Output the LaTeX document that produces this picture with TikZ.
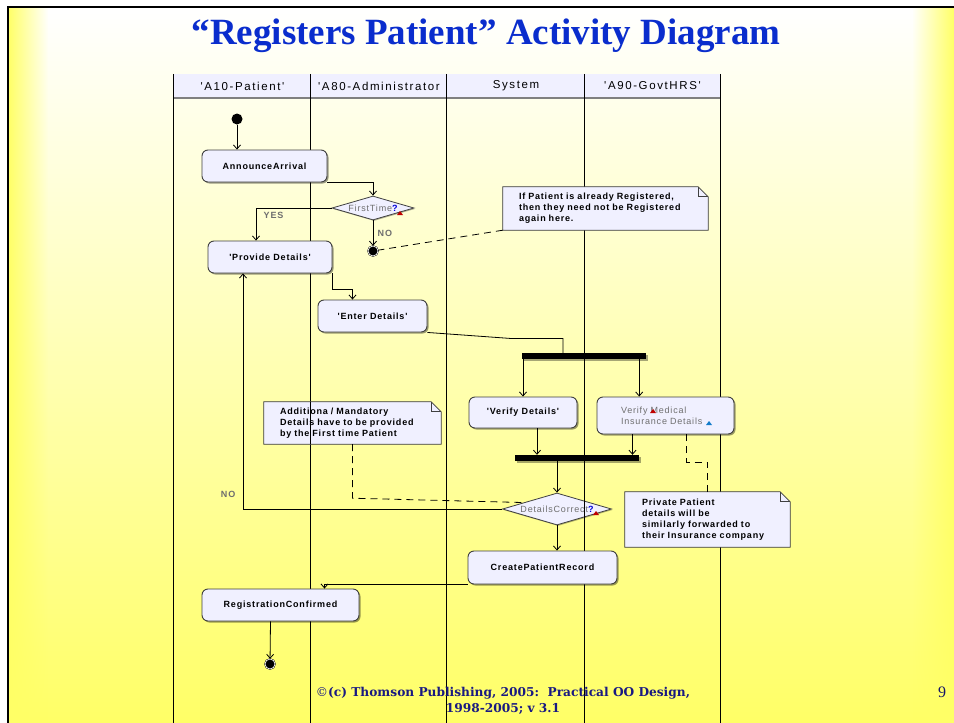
\documentclass[tikz,border=0pt]{standalone}
\usepackage{fontspec}
\setmainfont{Liberation Serif}
\newfontfamily\umlfont{Liberation Sans}[LetterSpace=9]
\newfontfamily\headfont{Liberation Sans}[LetterSpace=14]
\newfontfamily\footfont{DejaVu Serif}
\usetikzlibrary{arrows.meta,calc,shapes.geometric,shadows,fadings}
\definecolor{slideyellow}{RGB}{255,255,102}
\definecolor{boxfill}{RGB}{240,240,255}
\definecolor{titleblue}{RGB}{10,45,205}
\definecolor{footblue}{RGB}{25,25,130}
\definecolor{labelgray}{RGB}{110,110,110}
\pgfdeclarelayer{slide}
\pgfdeclarelayer{back}
\pgfsetlayers{slide,back,main}
% dog-eared outline behind a note node
\newcommand{\drawnote}[1]{%
  \begin{pgfonlayer}{back}
    \fill[black, opacity=0.4, xshift=2pt, yshift=-2pt] (#1.south west) -- (#1.south east)
      -- ([yshift=-10pt]#1.north east) -- ([xshift=-10pt]#1.north east) -- (#1.north west) -- cycle;
    \draw[notebody] (#1.south west) -- (#1.south east)
      -- ([yshift=-10pt]#1.north east) -- ([xshift=-10pt]#1.north east) -- (#1.north west) -- cycle;
    \draw[notebody, fill=none] ([xshift=-10pt]#1.north east) |- ([yshift=-10pt]#1.north east);
  \end{pgfonlayer}}

\begin{document}
\begin{tikzpicture}[x=1pt, y=-1pt, >={Straight Barb[length=4pt,width=7pt]},
    every node/.style={font=\umlfont},
    action/.style={rectangle, rounded corners=6pt, draw=black!75, line width=0.9pt, fill=boxfill,
      inner sep=0pt, font=\umlfont\bfseries\fontsize{9}{11}\selectfont,
      drop shadow={shadow xshift=1.5pt, shadow yshift=-1.5pt, fill=black, opacity=0.4}},
    decision/.style={diamond, aspect=3.4, draw=black!75, line width=0.8pt, fill=boxfill, inner sep=0pt,
      font=\umlfont\fontsize{9}{11}\selectfont, text=labelgray,
      drop shadow={shadow xshift=1pt, shadow yshift=-1pt, fill=black, opacity=0.3}},
    bar/.style={rectangle, fill=black, inner sep=0pt, minimum height=6pt,
      drop shadow={shadow xshift=1.5pt, shadow yshift=-1.5pt, fill=black, opacity=0.35}},
    initial/.style={circle, fill=black, inner sep=0pt, minimum size=11pt},
    final/.style={circle, fill=black, draw=black, double=white, double distance=0.7pt,
      inner sep=0pt, minimum size=10pt},
    note/.style={rectangle, inner sep=0pt, align=left,
      font=\umlfont\bfseries\fontsize{9}{11}\selectfont},
    notebody/.style={draw=black!75, line width=0.8pt, fill=boxfill},
    lanehead/.style={rectangle, fill=boxfill, inner sep=0pt, minimum height=24pt,
      font=\headfont\fontsize{11.5}{13}\selectfont},
    laneline/.style={line width=0.9pt},
    flow/.style={->, line width=0.8pt},
    link/.style={line width=0.8pt, dash pattern=on 7pt off 5pt},
    guard/.style={font=\umlfont\bfseries\fontsize{9}{11}\selectfont, text=labelgray}]

  \useasboundingbox (0,0) rectangle (954,723);
  \coordinate (pagebottom) at (0,723);

  % slide and swimlanes
  \begin{pgfonlayer}{slide}
    \shade[top color=white, bottom color=slideyellow] (8,7) rectangle (954,723);
    \fill[slideyellow, path fading=east] (8,7) rectangle (48,723);
    \fill[slideyellow, path fading=west] (912,7) rectangle (954,723);
    \draw[line width=2pt] (8,723) -- (8,7) -- (954,7);
    \node[lanehead, minimum width=137pt] (patient) at (242.5,86) {'A10-Patient'};
    \node[lanehead, minimum width=136pt] (admin) at (379,86) {'A80-Administrator};
    \node[lanehead, minimum width=138pt] (system) at (516,86) {System};
    \node[lanehead, minimum width=135pt] (govt) at (652.5,86) {'A90-GovtHRS'};
    \draw[black!50, line width=1.5pt] (patient.south west) -- (govt.south east);
    \foreach \lane in {patient,admin,system,govt}
      \draw[laneline] (\lane.north west) -- (\lane.north west |- pagebottom);
    \draw[laneline] (govt.north east) -- (govt.north east |- pagebottom);
  \end{pgfonlayer}

  \node[font=\bfseries\fontsize{37}{40}\selectfont, text=titleblue] (title) at (486,36)
    {“Registers Patient” Activity Diagram};

  % activities
  \node[initial] (start) at (237,119) {};
  \node[action, minimum width=125pt, minimum height=32pt] (announce) at (264.5,166) {AnnounceArrival};
  \node[decision, minimum width=82pt, minimum height=24pt] (firsttime) at (373,208)
    {FirstTime\textcolor{blue!85!black}{\bfseries ?}};
  \node[final] (final1) at (373,251) {};
  \node[action, minimum width=124pt, minimum height=32pt] (provide) at (270,257) {'Provide Details'};
  \node[action, minimum width=109pt, minimum height=32pt] (enter) at (372.5,316) {'Enter Details'};
  \node[bar, minimum width=124pt] (fork) at (584,356) {};
  \node[action, minimum width=108pt, minimum height=31pt] (verify) at (523,412.5) {'Verify Details'};
  \node[action, minimum width=137pt, minimum height=37pt, text width=89pt, align=left,
    font=\umlfont\fontsize{9}{11}\selectfont, text=labelgray] (medical) at (665.5,415.5)
    {Verify Medical\\Insurance Details};
  \node[bar, minimum width=124pt] (join) at (577,458) {};
  \node[decision, minimum width=109pt, minimum height=32pt] (correct) at (557,509)
    {DetailsCorrect\textcolor{blue!85!black}{\bfseries ?}};
  \node[action, minimum width=149pt, minimum height=33pt] (create) at (542.5,567.5) {CreatePatientRecord};
  \node[action, minimum width=157pt, minimum height=32pt] (confirmed) at (280.5,605) {RegistrationConfirmed};
  \node[final] (final2) at (270,664) {};

  % notes
  \node[note, minimum width=205pt, minimum height=43pt, text width=173pt] (note1) at (605.5,208.5)
    {If Patient is already Registered,\\then they need not be Registered\\again here.};
  \drawnote{note1}
  \node[note, minimum width=177pt, minimum height=42pt, text width=145pt] (note2) at (352.5,423)
    {Additiona / Mandatory\\Details have to be provided\\by the First time Patient};
  \drawnote{note2}
  \node[note, minimum width=165pt, minimum height=55pt, text width=131pt] (note3) at (707.5,519.5)
    {Private Patient\\details will be\\similarly forwarded to\\their Insurance company};
  \drawnote{note3}
  \draw[laneline] (note2.north -| admin.north west) -- (note2.south -| admin.north west);
  \draw[laneline] (correct.north -| govt.north west) -- (correct.south -| govt.north west);

  % small markers
  \fill[red!75!black] ($(firsttime.center)+(24,7)$) -- ++(6,0) -- ++(-3,-4) -- cycle;
  \fill[red!75!black] ($(correct.center)+(36,6)$) -- ++(6,0) -- ++(-3,-4) -- cycle;
  \fill[red!75!black] ($(medical.center)+(-15.5,-2.5)$) -- ++(6,0) -- ++(-3,-4) -- cycle;
  \fill[cyan!60!blue] ($(medical.center)+(40.5,9.5)$) -- ++(6,0) -- ++(-3,-4) -- cycle;

  % transitions
  \draw[flow] (start) -- (start |- announce.north);
  \draw[flow] (announce.south east) -| (firsttime.north);
  \draw[flow] (firsttime.west) -| ([xshift=-14pt]provide.north)
    node[guard, pos=0.62, right=4pt] {YES};
  \draw[flow] (firsttime.south) -- (final1) node[guard, midway, right=1pt] {NO};
  \draw[link] (note1.south west) -- (final1);
  \draw[flow] (provide.south east) -- ++(0,16) -| ([xshift=-20pt]enter.north);
  \draw[line width=0.8pt] (enter.south east) -- ++(83,6) -| ([xshift=-21pt]fork.north);
  \draw[flow] (verify.north |- fork.south) -- (verify.north);
  \draw[flow] ([xshift=-7pt]fork.south east) -- ([xshift=-7pt]fork.south east |- medical.north);
  \draw[flow] ([xshift=14pt]verify.south) -- ([xshift=14pt]verify.south |- join.north);
  \draw[flow] ([xshift=-33pt]medical.south) -- ([xshift=-33pt]medical.south |- join.north);
  \draw[link] ([xshift=21pt]medical.south) -- ++(0,28) -| (note3.north);
  \draw[flow] (correct.north |- join.south) -- (correct.north);
  \draw[flow] (correct.west) -| ([xshift=-27pt]provide.south)
    node[guard, pos=0.53, left=4pt] {NO};
  \draw[link] (note2.south) -- ++(0,54) -- (correct.169);
  \draw[flow] (correct.south) -- (correct.south |- create.north);
  \draw[flow] (create.south west) -| ([xshift=44pt]confirmed.north);
  \draw[flow] ([xshift=-10pt]confirmed.south) -- (final2);

  % footer
  \node[font=\footfont\bfseries\fontsize{12.2}{16}\selectfont, text=footblue, align=center] (footer)
    at (503,701) {{\mdseries\textcopyright}(c) Thomson Publishing, 2005:\ \ Practical OO Design,\\1998-2005; v 3.1};
  \node[font=\fontsize{16}{18}\selectfont, text=footblue!80!black] (pageno) at (942,692) {9};
\end{tikzpicture}
\end{document}
